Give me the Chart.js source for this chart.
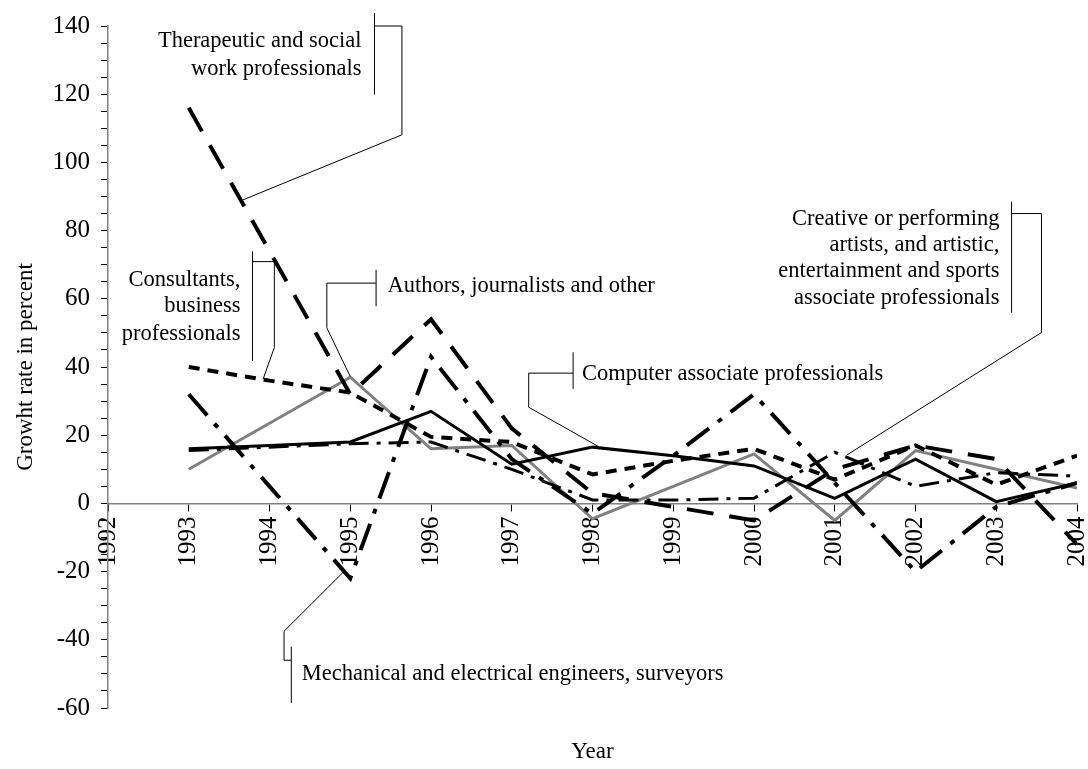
<!DOCTYPE html>
<html>
<head>
<meta charset="utf-8">
<script src="https://cdn.jsdelivr.net/npm/chart.js@4.4.1/dist/chart.umd.min.js"></script>
<style>
  html, body { margin: 0; background: #fff; }
  #wrap { width: 1088px; height: 769px; }
</style>
</head>
<body>
<div id="wrap"><canvas id="chart"></canvas></div>
<script>
// Years on the x axis (the axis itself starts at 1992)
const years = [1993, 1994, 1995, 1996, 1997, 1998, 1999, 2000, 2001, 2002, 2003, 2004];

// Growth rates in percent
const computerAssociate = [16, 17, 18, 27, 11.5, 16.5, 14, 11, 1.5, 13, 0.5, 6];
const authorsJournalists = [10, 23.5, 37, 16, 17, -4.5, 5, 14.5, -5, 15.5, 10, 4.5];
const therapeuticSocial = [116, 74, 32, 54, 22, 3, -1, -5, 10, 17, 13, -12];
const consultantsBusiness = [40, 36, 32.5, 19.5, 18, 8.5, 12.5, 16, 7, 17, 5.5, 14];
const mechanicalEngineers = [32, 5, -22, 43, 13, -3, 14, 32, 6, -20, -1, 6];
const creativeArtists = [15.5, 16.5, 17.5, 18, 10, 1, 1, 1.5, 15, 5, 9, 8];

const yTicksMajor = [-60, -40, -20, 0, 20, 40, 60, 80, 100, 120, 140];

const FONT = '"Liberation Serif", "Times New Roman", serif';

const pts = vals => vals.map((v, i) => ({ x: years[i], y: v }));

// Callouts: text + leader lines, all anchored in data units (year, percent)
const callouts = [
  {
    lines: ['Therapeutic and social', 'work professionals'],
    align: 'right', x: 1995.14, ys: [135.7, 127.4],
    bar: [[1995.30, 143.8], [1995.30, 119.9]],
    leader: [[1995.30, 140], [1995.64, 140], [1995.64, 108.1], [1993.67, 89]],
  },
  {
    lines: ['Consultants,', 'business', 'professionals'],
    align: 'right', x: 1993.64, ys: [65.6, 57.8, 49.6],
    bar: [[1993.79, 73.9], [1993.79, 41.8]],
    leader: [[1993.79, 70.9], [1994.06, 70.9], [1994.06, 45.7], [1993.92, 36.4]],
  },
  {
    lines: ['Authors, journalists and other'],
    align: 'left', x: 1995.46, ys: [63.7],
    bar: [[1995.32, 68.5], [1995.32, 57.8]],
    leader: [[1995.32, 64.6], [1994.71, 64.6], [1994.71, 51.5], [1995.0, 37.2]],
  },
  {
    lines: ['Computer associate professionals'],
    align: 'left', x: 1997.87, ys: [37.9],
    bar: [[1997.76, 44.3], [1997.76, 33.6]],
    leader: [[1997.76, 38.2], [1997.21, 38.2], [1997.21, 28.2], [1998.08, 16.6]],
  },
  {
    lines: ['Creative or performing', 'artists, and artistic,', 'entertainment and sports', 'associate professionals'],
    align: 'right', x: 2003.04, ys: [83.4, 75.7, 68.0, 60.3],
    bar: [[2003.19, 88.5], [2003.19, 55.9]],
    leader: [[2003.19, 85], [2003.56, 85], [2003.56, 50.1], [2001.15, 14.2]],
  },
  {
    lines: ['Mechanical and electrical engineers, surveyors'],
    align: 'left', x: 1994.40, ys: [-50],
    bar: [[1994.27, -42], [1994.27, -58.5]],
    leader: [[1994.92, -20], [1994.18, -37.5], [1994.18, -46], [1994.27, -46]],
  },
];

const calloutPlugin = {
  id: 'callouts',
  afterDatasetsDraw(chart) {
    const { ctx, scales: { x, y }, chartArea } = chart;
    const px = p => [x.getPixelForValue(p[0]), y.getPixelForValue(p[1])];
    ctx.save();
    ctx.lineWidth = 1;
    ctx.strokeStyle = '#000';
    for (const c of callouts) {
      ctx.beginPath();
      c.leader.forEach((p, i) => {
        const [a, b] = px(p);
        i ? ctx.lineTo(a, b) : ctx.moveTo(a, b);
      });
      ctx.stroke();
      ctx.beginPath();
      const [b0x, b0y] = px(c.bar[0]);
      const [b1x, b1y] = px(c.bar[1]);
      ctx.moveTo(b0x, b0y);
      ctx.lineTo(b1x, b1y);
      ctx.stroke();
      ctx.fillStyle = '#000';
      ctx.font = '22.5px ' + FONT;
      ctx.textAlign = c.align;
      ctx.textBaseline = 'middle';
      c.lines.forEach((t, i) => {
        ctx.fillText(t, x.getPixelForValue(c.x), y.getPixelForValue(c.ys[i]));
      });
    }
    // axis titles, centred on the plot area
    ctx.font = '23px ' + FONT;
    ctx.textAlign = 'center';
    ctx.textBaseline = 'middle';
    ctx.fillText('Year', (chartArea.left + chartArea.right) / 2, 752);
    ctx.translate(26, (chartArea.top + chartArea.bottom) / 2);
    ctx.rotate(-Math.PI / 2);
    ctx.fillText('Growht rate in percent', 0, 0);
    ctx.restore();
  },
};

const line = (label, vals, color, width, dash) => ({
  label,
  data: pts(vals),
  borderColor: color,
  borderWidth: width,
  borderDash: dash,
  pointRadius: 0,
  fill: false,
  tension: 0,
});

new Chart(document.getElementById('chart'), {
  type: 'line',
  data: {
    datasets: [
      line('Creative or performing artists', creativeArtists, '#000', 3, [20, 8, 4, 8]),
      line('Mechanical and electrical engineers, surveyors', mechanicalEngineers, '#000', 4, [28, 11, 5, 11]),
      line('Consultants, business professionals', consultantsBusiness, '#000', 4, [11, 8]),
      line('Therapeutic and social work professionals', therapeuticSocial, '#000', 4, [27, 16]),
      line('Computer associate professionals', computerAssociate, '#000', 3, []),
      line('Authors, journalists and other', authorsJournalists, '#808080', 3, []),
    ],
  },
  options: {
    responsive: true,
    maintainAspectRatio: false,
    animation: false,
    layout: { padding: { left: 0, right: 11, top: 21, bottom: 61 } },
    plugins: { legend: { display: false }, tooltip: { enabled: false } },
    scales: {
      x: {
        type: 'linear',
        min: 1992,
        max: 2004,
        position: { y: 0 },
        afterFit: s => { s.paddingLeft = 0; s.paddingRight = 0; },
        ticks: {
          stepSize: 1,
          autoSkip: false,
          minRotation: 90,
          maxRotation: 90,
          padding: 6,
          color: '#000',
          font: { family: FONT, size: 25 },
          callback: v => String(v),
        },
        grid: { drawOnChartArea: false, tickLength: 7, color: '#000' },
        border: { color: '#808080', width: 1.5 },
      },
      y: {
        type: 'linear',
        min: -60,
        max: 140,
        afterFit: s => { s.width = 108; },
        ticks: {
          stepSize: 5,
          autoSkip: false,
          padding: 11,
          color: '#000',
          font: { family: FONT, size: 25 },
          callback: v => (yTicksMajor.includes(v) ? String(v) : ''),
        },
        grid: { drawOnChartArea: false, tickLength: 7, color: '#000' },
        border: { color: '#808080', width: 1.5 },
      },
    },
  },
  plugins: [calloutPlugin],
});
</script>
</body>
</html>
